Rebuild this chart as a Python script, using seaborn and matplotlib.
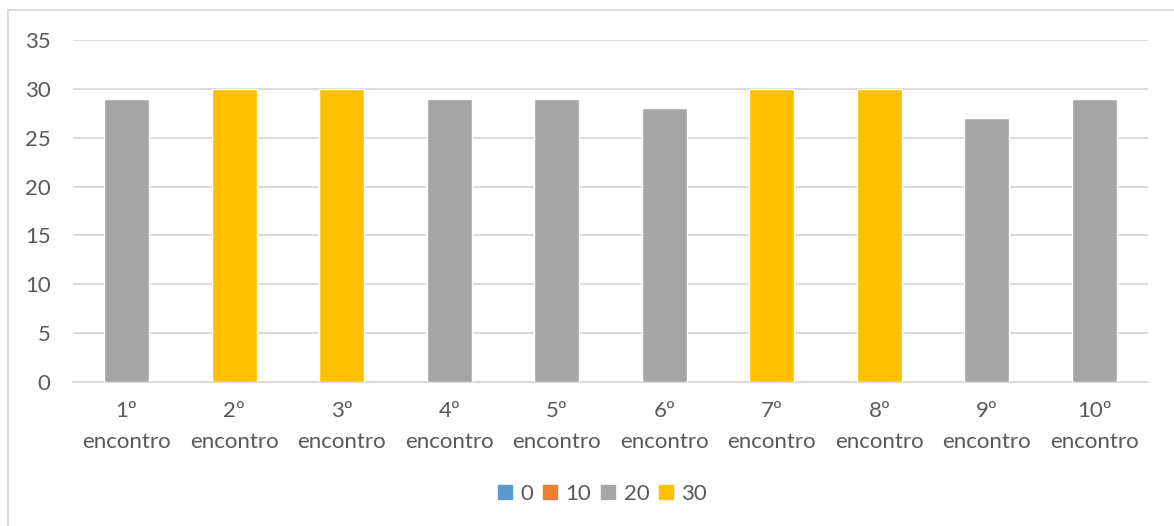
import pandas as pd
import matplotlib.pyplot as plt
import seaborn as sns
from matplotlib.lines import Line2D

# chart data
encontros = ['1º\nencontro', '2º\nencontro', '3º\nencontro', '4º\nencontro', '5º\nencontro',
             '6º\nencontro', '7º\nencontro', '8º\nencontro', '9º\nencontro', '10º\nencontro']
valores = [29, 30, 30, 29, 29, 28, 30, 30, 27, 29]
serie = ['20', '30', '30', '20', '20', '20', '30', '30', '20', '20']
legend_labels = ['0', '10', '20', '30']
cores = {'0': '#5B9BD5', '10': '#ED7D31', '20': '#A5A5A5', '30': '#FFC000'}

df = pd.DataFrame({'encontro': encontros, 'valor': valores, 'serie': serie})

sns.set_style('white')
plt.rcParams['font.family'] = ['Lato', 'DejaVu Sans']
text_color = '#595959'
fs = 16

fig = plt.figure(figsize=(11.74, 5.26), dpi=100)
ax = fig.add_axes([0.062, 0.274, 0.916, 0.65])

sns.barplot(x='encontro', y='valor', data=df, hue='serie', palette=cores,
            dodge=False, width=0.42, saturation=1, legend=False, ax=ax, zorder=3)

ax.set_ylim(0, 35)
ax.set_yticks(range(0, 36, 5))
ax.set_xlim(-0.5, len(encontros) - 0.5)
ax.yaxis.grid(True, color='#D9D9D9', linewidth=1.3, zorder=0)
ax.set_axisbelow(True)
for side in ['top', 'right', 'left']:
    ax.spines[side].set_visible(False)
ax.spines['bottom'].set_color('#D9D9D9')
ax.spines['bottom'].set_linewidth(1.3)
ax.set_xlabel('')
ax.set_ylabel('')
ax.tick_params(axis='both', length=0, labelsize=fs, labelcolor=text_color)
ax.tick_params(axis='y', pad=16)
ax.tick_params(axis='x', pad=14)
for lbl in ax.get_xticklabels():
    lbl.set_linespacing(1.65)

handles = [Line2D([], [], marker='s', linestyle='', markersize=10,
                  markerfacecolor=cores[k], markeredgecolor=cores[k]) for k in legend_labels]
leg = fig.legend(handles, legend_labels, loc='center', bbox_to_anchor=(0.512, 0.061),
                 ncol=4, frameon=False, fontsize=fs, handletextpad=0.25,
                 columnspacing=0.3, handlelength=0.9)
for t in leg.get_texts():
    t.set_color(text_color)

# outer chart frame (left and top edges visible in the crop)
frame_kw = dict(color='#D9D9D9', linewidth=1.3, transform=fig.transFigure)
fig.add_artist(Line2D([0.007, 0.007], [0.0, 0.981], **frame_kw))
fig.add_artist(Line2D([0.007, 1.0], [0.981, 0.981], **frame_kw))

fig.savefig('out.png', dpi=100)
